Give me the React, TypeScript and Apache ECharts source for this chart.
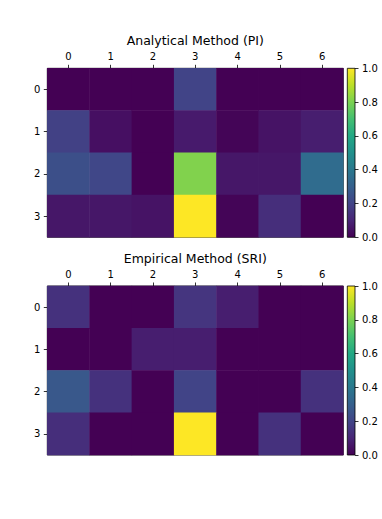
import React, { useEffect, useRef } from "react";
import * as echarts from "echarts";

const xCategories = ["0", "1", "2", "3", "4", "5", "6"];
const yCategories = ["0", "1", "2", "3"];

const titles = ["Analytical Method (PI)", "Empirical Method (SRI)"];

// rows = y categories 0..3, columns = x categories 0..6
const piValues = [
  [0.0, 0.0, 0.0, 0.2, 0.0, 0.0, 0.0],
  [0.19, 0.04, 0.0, 0.07, 0.01, 0.05, 0.08],
  [0.24, 0.21, 0.0, 0.81, 0.06, 0.06, 0.35],
  [0.06, 0.06, 0.05, 1.0, 0.01, 0.13, 0.0],
];

const sriValues = [
  [0.14, 0.0, 0.0, 0.15, 0.08, 0.0, 0.0],
  [0.0, 0.0, 0.08, 0.08, 0.0, 0.0, 0.0],
  [0.27, 0.14, 0.0, 0.2, 0.0, 0.0, 0.14],
  [0.13, 0.0, 0.0, 1.0, 0.0, 0.14, 0.0],
];

const viridis = [
  "#440154", "#482576", "#414487", "#35608d", "#2a788e", "#21908c",
  "#22a884", "#43bf71", "#7ad151", "#bbdf27", "#fde725",
];

const FONT = "DejaVu Sans";

function toHeat(m: number[][]) {
  const out: number[][] = [];
  m.forEach((row, yi) => row.forEach((v, xi) => out.push([xi, yi, v])));
  return out;
}

export default function App() {
  const ref = useRef<HTMLDivElement>(null);
  useEffect(() => {
    if (!ref.current) return;
    const chart = echarts.init(ref.current, undefined, { renderer: "svg" });

    const plotLeft = 47.3;
    const plotWidth = 296;
    const plotHeight = 169;
    const tops = [68.3, 286];
    const cbLeft = 347.3;
    const cbWidth = 7.7;

    const grids: any[] = [];
    const xAxes: any[] = [];
    const yAxes: any[] = [];
    const series: any[] = [];
    const graphics: any[] = [];

    const axisText = { color: "#000", fontSize: 10, fontFamily: FONT };

    [piValues, sriValues].forEach((mat, i) => {
      // heatmap grid
      grids.push({
        left: plotLeft,
        top: tops[i],
        width: plotWidth,
        height: plotHeight,
        show: true,
        borderColor: "#000",
        borderWidth: 0.8,
        backgroundColor: "transparent",
      });
      const gi = grids.length - 1;
      xAxes.push({
        type: "category",
        gridIndex: gi,
        data: xCategories,
        position: "top",
        axisLine: { show: false },
        axisTick: { show: true, alignWithLabel: true, length: 3.5, lineStyle: { color: "#000", width: 0.8 } },
        axisLabel: { ...axisText, margin: 7 },
        splitLine: { show: false },
      });
      yAxes.push({
        type: "category",
        gridIndex: gi,
        data: yCategories,
        inverse: true,
        axisLine: { show: false },
        axisTick: { show: true, alignWithLabel: true, length: 3.5, lineStyle: { color: "#000", width: 0.8 } },
        axisLabel: { ...axisText, margin: 7 },
        splitLine: { show: false },
      });
      series.push({
        type: "heatmap",
        xAxisIndex: gi,
        yAxisIndex: gi,
        data: toHeat(mat),
        itemStyle: { borderWidth: 0 },
        emphasis: { disabled: true },
      });

      // colorbar grid
      grids.push({
        left: cbLeft,
        top: tops[i],
        width: cbWidth,
        height: plotHeight,
        show: true,
        borderColor: "#000",
        borderWidth: 0.8,
        backgroundColor: "transparent",
        z: 3,
      });
      const ci = grids.length - 1;
      xAxes.push({
        type: "category",
        gridIndex: ci,
        data: [""],
        show: false,
      });
      yAxes.push({
        type: "value",
        gridIndex: ci,
        min: 0,
        max: 1,
        interval: 0.2,
        position: "right",
        axisLine: { show: false },
        axisTick: { show: true, length: 3.5, lineStyle: { color: "#000", width: 0.8 } },
        axisLabel: { ...axisText, margin: 7, formatter: (v: number) => v.toFixed(1) },
        splitLine: { show: false },
      });
      series.push({
        type: "custom",
        xAxisIndex: ci,
        yAxisIndex: ci,
        data: [[0, 0]],
        silent: true,
        renderItem: (params: any) => {
          const cs = params.coordSys;
          return {
            type: "rect",
            shape: { x: cs.x, y: cs.y, width: cs.width, height: cs.height },
            style: {
              fill: new echarts.graphic.LinearGradient(
                0, 1, 0, 0,
                viridis.map((c, k) => ({ offset: k / (viridis.length - 1), color: c }))
              ),
            },
          };
        },
      });

      graphics.push({
        type: "text",
        x: plotLeft + plotWidth / 2,
        y: tops[i] - 28,
        style: {
          text: titles[i],
          fill: "#000",
          font: `12.5px "${FONT}"`,
          textAlign: "center",
          textVerticalAlign: "middle",
        },
      });
    });

    chart.setOption({
      animation: false,
      backgroundColor: "#fff",
      textStyle: { fontFamily: FONT },
      grid: grids,
      xAxis: xAxes,
      yAxis: yAxes,
      visualMap: {
        show: false,
        type: "continuous",
        min: 0,
        max: 1,
        seriesIndex: [0, 2],
        inRange: { color: viridis },
      },
      graphic: graphics,
      series,
    });
    return () => chart.dispose();
  }, []);
  return (
    <div
      ref={ref}
      style={{ position: "fixed", left: 0, top: 0, width: 382, height: 519 }}
    />
  );
}
